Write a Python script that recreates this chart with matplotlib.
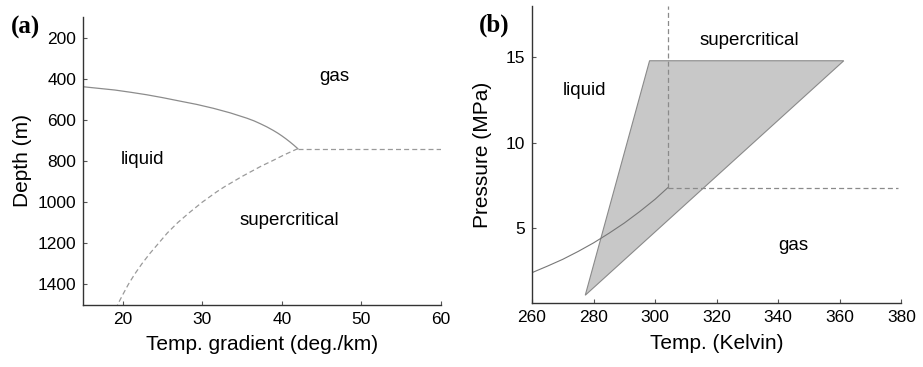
import matplotlib
matplotlib.use("Agg")
import matplotlib.pyplot as plt

plt.rcParams['font.family'] = ['Liberation Sans', 'DejaVu Sans']

# panel (a): boiling curve (solid), gradient vs depth
boil_grad = [15.0, 17.0, 19.0, 21.0, 23.0, 25.0, 27.2, 29.3, 31.4, 33.5, 35.6,
             36.5, 37.3, 38.1, 38.9, 39.5, 40.0, 40.5, 41.0, 41.5, 42.0]
boil_depth = [439, 447, 455, 466, 478, 492, 509, 525, 544, 566, 592,
              605, 619, 634, 651, 665, 678, 692, 707, 723, 740]
# supercritical boundary (dashed)
crit_grad = [42.0, 40.3, 38.75, 37.4, 36.2, 35.0, 33.9, 32.8, 31.8, 30.9, 30.0,
             28.4, 26.9, 25.6, 24.5, 23.4, 22.4, 21.5, 20.7, 20.0, 19.33]
crit_depth = [740, 770, 800, 825, 850, 875, 900, 925, 950, 975, 1000,
              1050, 1100, 1150, 1200, 1250, 1300, 1350, 1400, 1450, 1500]
crit_pt_a = (42.0, 740)

# panel (b): vapour pressure curve of CO2
vp_temp = [260, 265, 270, 275, 280, 285, 290, 295, 300, 304.1]
vp_pres = [2.42, 2.80, 3.20, 3.66, 4.16, 4.72, 5.32, 5.99, 6.71, 7.38]
crit_pt_b = (304.1, 7.38)
# shaded region
poly_temp = [277.3, 298.2, 361.3]
poly_pres = [1.1, 14.8, 14.8]

line_col = '#8c8c8c'
dash_col = '#9a9a9a'

fig = plt.figure(figsize=(9.23, 3.67), dpi=100)
ax1 = fig.add_axes([0.0899, 0.169, 0.3879, 0.7847])
ax2 = fig.add_axes([0.5764, 0.1736, 0.4001, 0.8101])

for ax in (ax1, ax2):
    ax.spines['top'].set_visible(False)
    ax.spines['right'].set_visible(False)
    for s in ('left', 'bottom'):
        ax.spines[s].set_color('#333333')
        ax.spines[s].set_linewidth(1.0)
    ax.tick_params(direction='in', length=3, width=0.8, color='#555555',
                   labelsize=12.5, pad=5)

# (a)
ax1.plot(boil_grad, boil_depth, color=line_col, lw=0.9)
ax1.plot(crit_grad, crit_depth, color=dash_col, lw=0.9, ls=(0, (4, 2.5)))
ax1.plot([crit_pt_a[0], 60], [crit_pt_a[1], crit_pt_a[1]], color=dash_col, lw=0.9,
         ls=(0, (4, 2.5)))
ax1.set_xlim(15, 60)
ax1.set_ylim(1500, 100)
ax1.set_xticks([20, 30, 40, 50, 60])
ax1.set_yticks([200, 400, 600, 800, 1000, 1200, 1400])
ax1.set_xlabel('Temp. gradient (deg./km)', fontsize=15, labelpad=6)
ax1.set_ylabel('Depth (m)', fontsize=15, labelpad=4)
ax1.text(46.6, 390, 'gas', fontsize=13.5, ha='center', va='center')
ax1.text(22.5, 795, 'liquid', fontsize=13.5, ha='center', va='center')
ax1.text(40.9, 1090, 'supercritical', fontsize=13.5, ha='center', va='center')
fig.text(0.012, 0.925, '(a)', fontsize=18, fontweight='bold',
         family=['Liberation Serif', 'DejaVu Serif'], va='center')

# (b)
ax2.fill(poly_temp, poly_pres, facecolor='#c8c8c8', edgecolor='#8a8a8a', lw=0.8)
ax2.plot(vp_temp, vp_pres, color='#777777', lw=0.8)
ax2.plot([crit_pt_b[0], crit_pt_b[0]], [crit_pt_b[1], 18], color='#8a8a8a', lw=0.9,
         ls=(0, (4, 2.5)))
ax2.plot([crit_pt_b[0], 379], [crit_pt_b[1], crit_pt_b[1]], color='#8a8a8a', lw=0.9,
         ls=(0, (4, 2.5)))
ax2.set_xlim(260, 380)
ax2.set_ylim(0.63, 18)
ax2.set_xticks([260, 280, 300, 320, 340, 360, 380])
ax2.set_yticks([5, 10, 15])
ax2.set_xlabel('Temp. (Kelvin)', fontsize=15, labelpad=6)
ax2.set_ylabel('Pressure (MPa)', fontsize=15, labelpad=10)
ax2.text(330.7, 16.0, 'supercritical', fontsize=13.5, ha='center', va='center')
ax2.text(277.1, 13.06, 'liquid', fontsize=13.5, ha='center', va='center')
ax2.text(344.8, 3.99, 'gas', fontsize=13.5, ha='center', va='center')
fig.text(0.519, 0.932, '(b)', fontsize=18, fontweight='bold',
         family=['Liberation Serif', 'DejaVu Serif'], va='center')

fig.savefig('out.png', dpi=100)
